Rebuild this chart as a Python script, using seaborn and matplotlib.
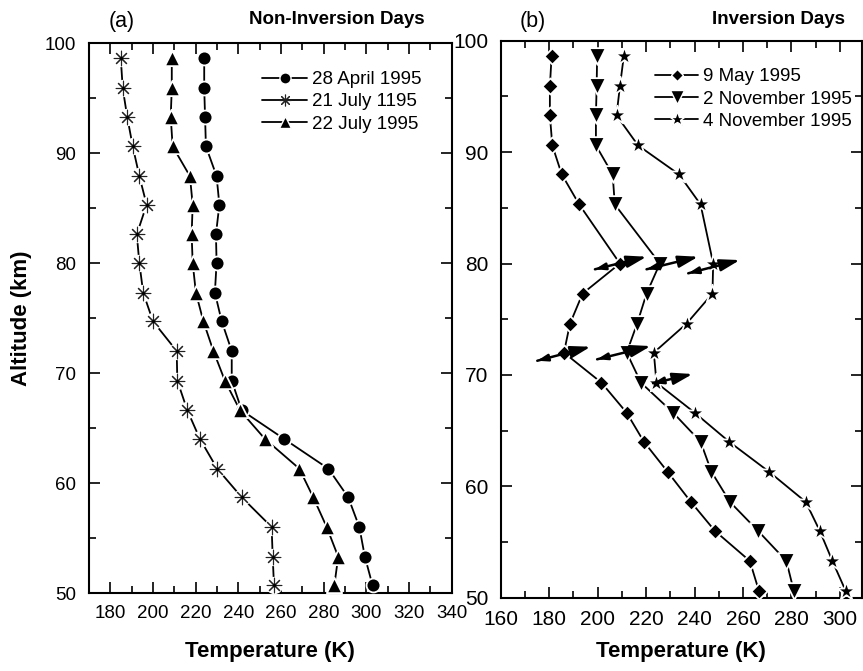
import numpy as np
import pandas as pd
import matplotlib
matplotlib.use("Agg")
import matplotlib.pyplot as plt
import seaborn as sns
from matplotlib.lines import Line2D

# ---------------- data ----------------
alt_a = [98.6, 95.9, 93.3, 90.6, 87.9, 85.3, 82.6, 80.0, 77.3, 74.7,
         72.0, 69.3, 66.6, 64.0, 61.3, 58.7, 56.0, 53.3, 50.7]
t_apr28 = [224.0, 224.0, 224.4, 224.8, 229.8, 231.1, 229.5, 229.8, 229.0, 232.2,
           236.9, 236.9, 241.6, 261.5, 282.2, 291.5, 296.7, 299.3, 302.9]
t_jul21 = [184.9, 185.8, 187.9, 190.5, 193.6, 197.0, 192.4, 193.6, 195.4, 200.0,
           211.1, 211.4, 216.1, 222.0, 230.1, 241.6, 255.6, 256.1, 256.7]
t_jul22 = [208.8, 208.8, 208.3, 209.2, 217.3, 218.6, 218.1, 218.6, 220.1, 223.6,
           228.3, 233.7, 240.8, 252.5, 268.6, 275.1, 281.4, 286.8, 285.0]
labels_a = ["28 April 1995", "21 July 1195", "22 July 1995"]

alt_b = [98.6, 95.9, 93.3, 90.6, 88.0, 85.3, 80.0, 77.3, 74.6,
         72.0, 69.3, 66.6, 64.0, 61.3, 58.6, 56.0, 53.3, 50.6]
t_may9 = [181.0, 180.3, 180.3, 181.3, 185.2, 192.4, 209.2, 193.8, 188.6,
          186.1, 201.6, 212.0, 219.1, 228.9, 238.5, 248.4, 262.8, 266.6]
t_nov2 = [199.8, 199.6, 199.3, 199.3, 206.2, 207.1, 225.7, 220.2, 216.3,
          212.0, 217.9, 231.2, 242.5, 247.0, 254.6, 266.2, 277.9, 281.0]
t_nov4 = [210.8, 209.2, 207.8, 216.7, 233.6, 242.5, 247.7, 247.4, 236.7,
          223.2, 224.3, 240.1, 254.3, 270.8, 285.9, 291.7, 296.9, 302.4]
labels_b = ["9 May 1995", "2 November 1995", "4 November 1995"]

# inversion arrows: (series index, altitude, left offset (dT, dz), right offset (dT, dz))
arrows_b = [
    (0, 80.0, (-10.3, -0.52), (11.0, 0.61)),
    (1, 80.0, (-5.5, -0.52), (15.8, 0.61)),
    (2, 80.0, (-10.3, -0.88), (11.0, 0.31)),
    (0, 72.0, (-11.0, -0.73), (11.0, 0.53)),
    (1, 72.0, (-12.2, -0.60), (9.9, 0.59)),
    (2, 69.3, (-1.4, -0.05), (14.9, 0.78)),
]

# ---------------- style ----------------
sns.set_theme(style="ticks")
plt.rcParams["font.family"] = ["Liberation Sans", "DejaVu Sans"]
plt.rcParams["axes.linewidth"] = 1.5
plt.rcParams["text.color"] = "black"
plt.rcParams["axes.labelcolor"] = "black"
plt.rcParams["xtick.color"] = "black"
plt.rcParams["ytick.color"] = "black"

W, H = 863, 671
fig = plt.figure(figsize=(W / 100, H / 100), dpi=100)

def fx(px):
    return px / W

def fy(py):
    return 1 - py / H

axA = fig.add_axes([fx(89), fy(593), fx(451.7) - fx(89), fy(43) - fy(593)])
axB = fig.add_axes([fx(500.7), fy(597.7), fx(861.7) - fx(500.7), fy(40.7) - fy(597.7)])

ASTER = (8, 2, 0)
LW = 1.3


def draw_series(ax, T, Z, marker, ms):
    df = pd.DataFrame({"T": T, "Z": Z})
    sns.lineplot(data=df, x="T", y="Z", sort=False, estimator=None,
                 color="black", lw=LW, ax=ax, zorder=2)
    if marker == ASTER:
        sns.scatterplot(data=df, x="T", y="Z", marker="o", s=(ms + 2) ** 2,
                        color="white", linewidth=0, ax=ax, zorder=3)
        sns.scatterplot(data=df, x="T", y="Z", marker=ASTER, s=ms ** 2,
                        color="#222222", linewidths=0.8, ax=ax, zorder=4)
        sns.scatterplot(data=df, x="T", y="Z", marker="o", s=5,
                        color="black", linewidth=0, ax=ax, zorder=5)
    else:
        sns.scatterplot(data=df, x="T", y="Z", marker=marker, s=ms ** 2,
                        color="black", edgecolor="white", linewidth=1.3,
                        ax=ax, zorder=4)


# panel (a)
series_a = [(t_apr28, "o", 10.0), (t_jul21, ASTER, 10.5), (t_jul22, "^", 11.0)]
for T, m, ms in series_a:
    draw_series(axA, T, alt_a, m, ms)

# panel (b)
series_b = [(t_may9, "D", 8.2), (t_nov2, "v", 12.0), (t_nov4, "*", 14.0)]
for T, m, ms in series_b:
    draw_series(axB, T, alt_b, m, ms)

# arrows
for si, z, (dxl, dzl), (dxr, dzr) in arrows_b:
    T = series_b[si][0]
    t0 = T[alt_b.index(z)]
    left = (t0 + dxl, z + dzl)
    right = (t0 + dxr, z + dzr)
    axB.annotate("", xy=right, xytext=left,
                 arrowprops=dict(arrowstyle="-|>,head_length=1.2,head_width=0.36",
                                 color="black", lw=1.8, shrinkA=0, shrinkB=0,
                                 mutation_scale=10), zorder=6)
    mid = (left[0] + (right[0] - left[0]) * 0.2, left[1] + (right[1] - left[1]) * 0.2)
    axB.annotate("", xy=left, xytext=mid,
                 arrowprops=dict(arrowstyle="-|>,head_length=0.6,head_width=0.2",
                                 color="black", lw=1.8, shrinkA=0, shrinkB=0,
                                 mutation_scale=10), zorder=6)

# axes formatting
axA.set_xlim(170, 340)
axA.set_xticks(np.arange(180, 341, 20))
axA.set_xticks(np.arange(170, 341, 10), minor=True)
axB.set_xlim(160, 309)
axB.set_xticks(np.arange(160, 301, 20))
axB.set_xticks(np.arange(160, 309, 10), minor=True)
for ax, fs in ((axA, 13.5), (axB, 15)):
    ax.set_ylim(50, 100)
    ax.set_yticks(np.arange(50, 101, 10))
    ax.set_yticks(np.arange(50, 101, 5), minor=True)
    ax.tick_params(which="both", direction="in", top=True, right=True,
                   color="black", width=1.2, labelcolor="black", labelsize=fs)
    ax.tick_params(which="major", length=8)
    ax.tick_params(which="minor", length=5)
    ax.tick_params(axis="x", pad=9)
    ax.tick_params(axis="y", pad=9)
    for sp in ax.spines.values():
        sp.set_visible(True)
        sp.set_color("black")
        sp.set_linewidth(1.5)
    ax.set_facecolor("white")
    ax.grid(False)

axA.set_ylabel("Altitude (km)", fontsize=16, fontweight="bold", color="black")
axA.yaxis.set_label_coords((22 - 89) / 362.7, 0.5)
axA.yaxis.label.set_va("center")
axB.set_ylabel("")
axA.set_xlabel("Temperature (K)", fontsize=16, fontweight="bold", color="black")
axA.xaxis.set_label_coords(0.5, (593 - 652) / 550)
axA.xaxis.label.set_va("center")
axB.set_xlabel("Temperature (K)", fontsize=16, fontweight="bold", color="black")
axB.xaxis.set_label_coords(0.5, (597.7 - 652) / 557)
axB.xaxis.label.set_va("center")

# legends
def make_handles(series):
    hs = []
    for T, m, ms in series:
        if m == ASTER:
            hs.append(Line2D([], [], color="black", lw=LW, marker=m, ms=ms * 0.8,
                             mec="#222222", mew=0.8))
        else:
            hs.append(Line2D([], [], color="black", lw=LW, marker=m, ms=ms * 0.8,
                             mfc="black", mec="white", mew=1.0))
    return hs

legA = axA.legend(make_handles(series_a), labels_a, loc="upper left",
                  bbox_to_anchor=(fx(262), fy(71)), bbox_transform=fig.transFigure,
                  frameon=False, fontsize=13.5, handlelength=2.4, handletextpad=0.25,
                  labelspacing=0.28, borderpad=0, borderaxespad=0)
legB = axB.legend(make_handles(series_b), labels_b, loc="upper left",
                  bbox_to_anchor=(fx(655), fy(68)), bbox_transform=fig.transFigure,
                  frameon=False, fontsize=13.5, handlelength=2.3, handletextpad=0.25,
                  labelspacing=0.28, borderpad=0, borderaxespad=0)
for leg in (legA, legB):
    for t in leg.get_texts():
        t.set_color("black")

# panel titles
fig.text(fx(122), fy(22), "(a)", fontsize=15.5, ha="center", va="center")
fig.text(fx(425), fy(19), "Non-Inversion Days", fontsize=13.5, fontweight="bold",
         ha="right", va="center")
fig.text(fx(533), fy(22), "(b)", fontsize=15.5, ha="center", va="center")
fig.text(fx(845), fy(19), "Inversion Days", fontsize=13.5, fontweight="bold",
         ha="right", va="center")

fig.savefig("out.png", dpi=100, facecolor="white")
